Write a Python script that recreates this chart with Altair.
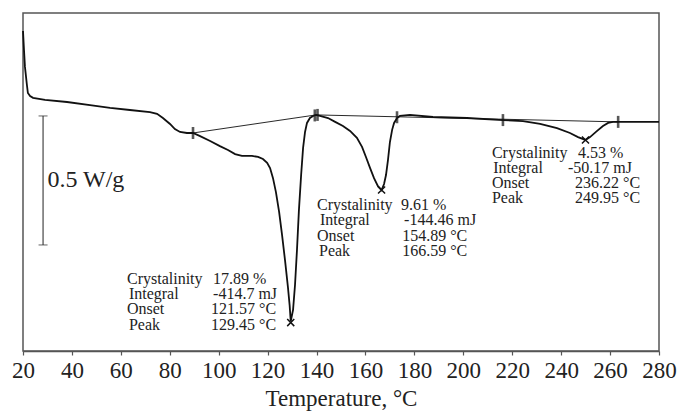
import altair as alt
import pandas as pd

# DSC curve (temperature in °C, heat flow in W/g relative to plot top)
temp = [20.0, 20.4, 20.8, 21.6, 22.0, 22.9, 24.1, 29.0, 38.0, 47.4, 55.6, 63.7, 71.9, 74.8,
        77.2, 80.1, 82.1, 84.2, 87.0, 89.5, 92.4, 96.5, 100.5, 103.8, 106.7, 109.5, 113.6,
        116.1, 118.1, 119.8, 121.0, 122.2, 123.4, 124.7, 125.9, 127.1, 128.3, 129.0, 129.45,
        130.4, 131.2, 132.0, 132.8, 133.7, 134.5, 135.3, 136.1, 137.3, 138.6, 139.8, 141.4,
        144.7, 147.6, 150.8, 153.7, 156.5, 158.6, 160.2, 161.9, 163.5, 165.1, 166.59, 167.6,
        168.4, 169.2, 170.0, 170.9, 171.7, 172.9, 174.1, 178.2, 187.6, 201.5, 216.2, 224.4,
        231.4, 238.3, 243.6, 246.9, 249.95, 251.8, 254.7, 257.1, 259.2, 261.2, 264.1, 280.0]
heat = [-0.070, -0.143, -0.209, -0.279, -0.310, -0.322, -0.329, -0.337, -0.345, -0.357,
        -0.368, -0.376, -0.384, -0.391, -0.407, -0.430, -0.450, -0.461, -0.465, -0.465,
        -0.477, -0.496, -0.516, -0.531, -0.547, -0.554, -0.554, -0.558, -0.566, -0.581,
        -0.601, -0.640, -0.694, -0.771, -0.860, -0.957, -1.062, -1.132, -1.195, -1.151,
        -1.054, -0.919, -0.764, -0.628, -0.523, -0.461, -0.426, -0.407, -0.399, -0.395,
        -0.399, -0.407, -0.422, -0.438, -0.457, -0.484, -0.519, -0.558, -0.601, -0.640,
        -0.671, -0.686, -0.663, -0.628, -0.570, -0.500, -0.453, -0.426, -0.407, -0.399,
        -0.395, -0.403, -0.407, -0.415, -0.419, -0.430, -0.446, -0.465, -0.481, -0.492,
        -0.481, -0.457, -0.438, -0.426, -0.422, -0.422, -0.422]

# integration baselines
base_id = ["b1", "b1", "b2", "b2"]
base_t = [89.5, 139.8, 139.8, 263.3]
base_h = [-0.465, -0.395, -0.395, -0.422]

# integration limit marks
lim_t = [89.5, 139.3, 140.4, 172.9, 216.2, 263.3]
lim_h = [-0.465, -0.397, -0.395, -0.404, -0.415, -0.422]

# peak markers
peak_t = [129.45, 166.59, 249.95]
peak_h = [-1.200, -0.686, -0.492]

# scale bar (0.5 W/g)
bar_t = 28.2
bar_top = -0.399
bar_bottom = -0.899

# annotation blocks
ann_labels = ["Crystalinity", "Integral", "Onset", "Peak",
              "Crystalinity", "Integral", "Onset", "Peak",
              "Crystalinity", "Integral", "Onset", "Peak"]
ann_label_t = [62.5, 63.3, 62.5, 63.3,
               140.2, 141.4, 140.2, 141.0,
               211.7, 212.2, 211.7, 211.7]
ann_values = ["17.89 %", "-414.7 mJ", "121.57 °C", "129.45 °C",
              "9.61 %", "-144.46 mJ", "154.89 °C", "166.59 °C",
              "4.53 %", "-50.17 mJ", "236.22 °C", "249.95 °C"]
ann_value_t = [97.7, 97.7, 96.9, 96.9,
               174.5, 175.8, 175.0, 175.0,
               246.9, 242.8, 245.7, 245.7]
ann_h = [-1.031, -1.089, -1.147, -1.209,
         -0.744, -0.802, -0.864, -0.922,
         -0.543, -0.601, -0.659, -0.717]

FONT = "Liberation Serif"
XDOM = [20, 280]
YDOM = [-1.310, 0.0]

curve_df = pd.DataFrame({"T": temp, "H": heat, "i": range(len(temp))})
base_df = pd.DataFrame({"g": base_id, "T": base_t, "H": base_h})
lim_df = pd.DataFrame({"T": lim_t, "H": lim_h})
peak_df = pd.DataFrame({"T": peak_t, "H": peak_h})
bar_df = pd.DataFrame({"T": [bar_t], "H": [bar_top], "H2": [bar_bottom]})
cap_df = pd.DataFrame({"T": [bar_t, bar_t], "H": [bar_top, bar_bottom]})
lab_df = pd.DataFrame({"T": ann_label_t, "H": ann_h, "txt": ann_labels})
val_df = pd.DataFrame({"T": ann_value_t, "H": ann_h, "txt": ann_values})
sb_df = pd.DataFrame({"T": [30.0], "H": [-0.647], "txt": ["0.5 W/g"]})

x_enc = alt.X("T:Q", scale=alt.Scale(domain=XDOM, nice=False, zero=False),
              axis=alt.Axis(values=list(range(20, 281, 20)), title="Temperature, °C",
                            grid=False, labelFont=FONT, labelFontSize=23, labelColor="#222",
                            titleFont=FONT, titleFontSize=23, titleFontWeight="normal",
                            titleColor="#222", tickColor="#555", domainColor="#555",
                            tickSize=4, tickWidth=1.2, domainWidth=1.5, labelPadding=4,
                            titlePadding=5, labelOverlap=False, labelFlush=False))
y_scale = alt.Scale(domain=YDOM, nice=False, zero=False)
y_enc = alt.Y("H:Q", scale=y_scale, axis=None)

curve = alt.Chart(curve_df).mark_line(color="#111", strokeWidth=1.8).encode(
    x=x_enc, y=y_enc, order="i:Q")
base = alt.Chart(base_df).mark_line(color="#111", strokeWidth=0.9).encode(
    x="T:Q", y=alt.Y("H:Q", scale=y_scale, axis=None), detail="g:N")
lims = alt.Chart(lim_df).mark_tick(color="#111", orient="vertical", size=12, thickness=2.6).encode(
    x="T:Q", y=alt.Y("H:Q", scale=y_scale, axis=None))
peaks = alt.Chart(peak_df).mark_point(shape="M-1,-1L1,1M-1,1L1,-1", size=50, filled=False,
                                      color="#111", strokeWidth=1.5, opacity=1).encode(
    x="T:Q", y=alt.Y("H:Q", scale=y_scale, axis=None))
bar = alt.Chart(bar_df).mark_rule(color="#222", strokeWidth=1).encode(
    x="T:Q", y=alt.Y("H:Q", scale=y_scale, axis=None), y2="H2:Q")
caps = alt.Chart(cap_df).mark_tick(color="#222", orient="horizontal", size=9, thickness=1).encode(
    x="T:Q", y=alt.Y("H:Q", scale=y_scale, axis=None))
sb_text = alt.Chart(sb_df).mark_text(font=FONT, fontSize=24, align="left", baseline="middle",
                                     color="#222").encode(
    x="T:Q", y=alt.Y("H:Q", scale=y_scale, axis=None), text="txt:N")
labels = alt.Chart(lab_df).mark_text(font=FONT, fontSize=16, align="left", baseline="middle",
                                     color="#222").encode(
    x="T:Q", y=alt.Y("H:Q", scale=y_scale, axis=None), text="txt:N")
values = alt.Chart(val_df).mark_text(font=FONT, fontSize=16, align="left", baseline="middle",
                                     color="#222").encode(
    x="T:Q", y=alt.Y("H:Q", scale=y_scale, axis=None), text="txt:N")

chart = alt.layer(curve, base, lims, peaks, bar, caps, sb_text, labels, values).properties(
    width=636, height=338, autosize="none",
    padding={"left": 23, "top": 13, "right": 20, "bottom": 63},
    background="white",
).configure_view(stroke="#555", strokeWidth=1.5)

chart.save("out.html", embed_options={"renderer": "svg", "actions": False})
